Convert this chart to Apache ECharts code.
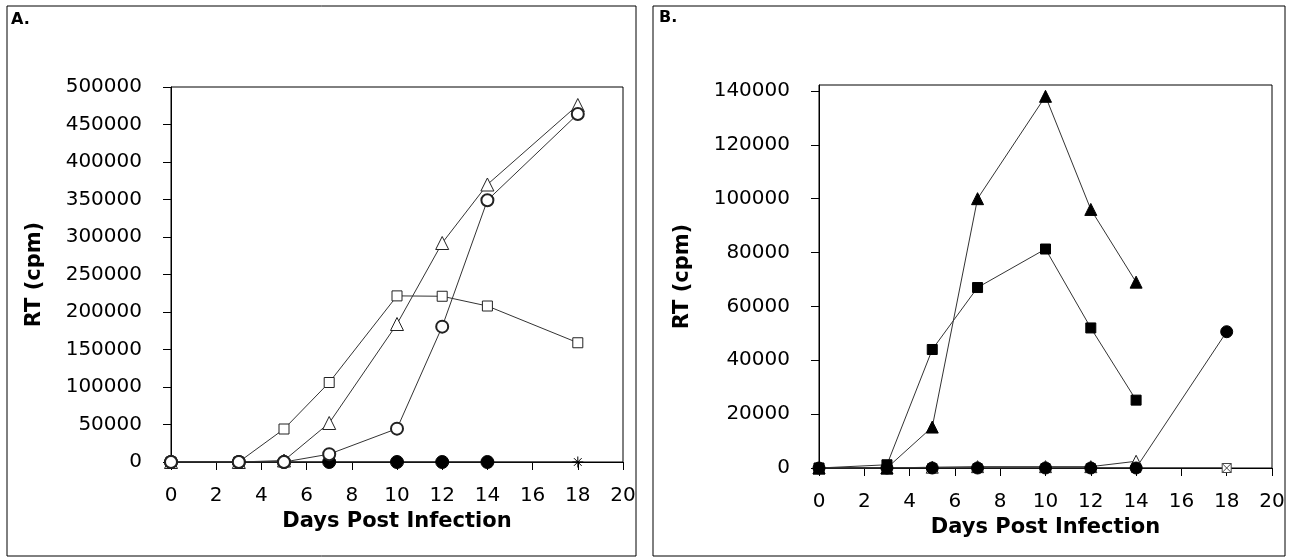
<!DOCTYPE html>
<html>
<head>
<meta charset="utf-8">
<script src="https://cdn.jsdelivr.net/npm/echarts@6/dist/echarts.min.js"></script>
<style>
  html, body { margin: 0; padding: 0; background: #fff; }
  #chart { width: 1291px; height: 559px; }
</style>
</head>
<body>
<div id="chart"></div>
<script>
// 数据
const days = [0, 3, 5, 7, 10, 12, 14, 18];
const daysTo14 = [0, 3, 5, 7, 10, 12, 14];
const xTicks = [0, 2, 4, 6, 8, 10, 12, 14, 16, 18, 20];

// Panel A
const aSquare = [0, 0, 44000, 106000, 221500, 221000, 208000, 159000];
const aTriangle = [0, 0, 2000, 52000, 184000, 292000, 370000, 476000];
const aCircle = [0, 0, 0, 10500, 44500, 180500, 349000, 464000];
const aDot = [0, 0, 0, 0, 0, 0, 0];
const aStar = [0, 0, 0, 0, 0, 0, 0, 0];
const aYTicks = [0, 50000, 100000, 150000, 200000, 250000, 300000, 350000, 400000, 450000, 500000];

// Panel B
const bTriangle = [0, 0, 15200, 100000, 138000, 96000, 69000];
const bSquare = [0, 1200, 44000, 67000, 81300, 52000, 25200];
const bDot = [0, 0, 0, 0, 0, 0, 0, 50600];
const bOpenTri = [0, 0, 300, 500, 500, 500, 2500];
const bCrossSq = [0, 0, 0, 0, 0, 0, 0, 0];
const bYTicks = [0, 20000, 40000, 60000, 80000, 100000, 120000, 140000];

const zip = (xs, ys) => ys.map((v, i) => [xs[i], v])

const font = 'DejaVu Sans, Verdana, sans-serif'
const lineStyle = { color: '#333', width: 1 }

const xAxis = (gridIndex) => ({
  type: 'value', gridIndex, min: 0, max: 20, interval: 2,
  name: 'Days Post Infection', nameLocation: 'middle', nameGap: gridIndex === 0 ? 47 : 41,
  nameTextStyle: { fontFamily: font, fontSize: 21, fontWeight: 'bold', color: '#000' },
  axisLine: { show: true, onZero: false, lineStyle: { color: '#000', width: 1 } },
  axisTick: { show: true, length: 8, lineStyle: { color: '#000' }, customValues: xTicks },
  axisLabel: { margin: 24, fontFamily: font, fontSize: 20, color: '#000', customValues: xTicks },
  splitLine: { show: false }
})

const yAxis = (gridIndex, max, ticks) => ({
  type: 'value', gridIndex, min: 0, max,
  name: 'RT (cpm)', nameLocation: 'middle', nameGap: 126, nameRotate: 90,
  nameTextStyle: { fontFamily: font, fontSize: 21, fontWeight: 'bold', color: '#000' },
  axisLine: { show: true, lineStyle: { color: '#000', width: 1 } },
  axisTick: { show: true, length: 8, lineStyle: { color: '#000' }, customValues: ticks },
  axisLabel: { margin: 29, fontFamily: font, fontSize: 20, color: '#000', customValues: ticks, formatter: v => String(v) },
  splitLine: { show: false }
})

const openStyle = (bw) => ({ color: '#fff', borderColor: '#222', borderWidth: bw })
const fillStyle = { color: '#000', borderColor: '#000', borderWidth: 1 }

const mk = (name, xi, data, symbol, size, itemStyle) => ({
  name, type: 'line', xAxisIndex: xi, yAxisIndex: xi, data,
  symbol, symbolSize: size, showAllSymbol: true,
  lineStyle, itemStyle, animation: false
})

const starPath = 'path://M5,0L5,10M0,5L10,5M1.5,1.5L8.5,8.5M1.5,8.5L8.5,1.5'
const crossSqPath = 'path://M0,0L10,0L10,10L0,10ZM0,0L10,10M10,0L0,10'

const chart = echarts.init(document.getElementById('chart'))
chart.setOption({
  backgroundColor: '#fff',
  graphic: [
    { type: 'rect', shape: { x: 7, y: 6, width: 629, height: 550 }, style: { fill: 'none', stroke: '#000', lineWidth: 1 } },
    { type: 'rect', shape: { x: 653, y: 6, width: 632, height: 550 }, style: { fill: 'none', stroke: '#000', lineWidth: 1 } },
    { type: 'text', left: 11, top: 12, style: { text: 'A.', font: 'bold 16px ' + font, fill: '#000' } },
    { type: 'text', left: 659, top: 10, style: { text: 'B.', font: 'bold 16px ' + font, fill: '#000' } }
  ],
  grid: [
    { left: 171, top: 87, width: 452, height: 375, show: true, borderColor: '#000', borderWidth: 1, backgroundColor: 'transparent' },
    { left: 819, top: 85, width: 453, height: 383, show: true, borderColor: '#000', borderWidth: 1, backgroundColor: 'transparent' }
  ],
  xAxis: [xAxis(0), xAxis(1)],
  yAxis: [yAxis(0, 500000, aYTicks), yAxis(1, 142200, bYTicks)],
  series: [
    mk('A star', 0, zip(days, aStar), starPath, 11, { color: 'transparent', borderColor: '#000', borderWidth: 1 }),
    mk('A square', 0, zip(days, aSquare), 'rect', 10, openStyle(1)),
    mk('A triangle', 0, zip(days, aTriangle), 'triangle', 13, openStyle(1)),
    mk('A dot', 0, zip(daysTo14, aDot), 'circle', 13, fillStyle),
    mk('A circle', 0, zip(days, aCircle), 'circle', 12, openStyle(2)),

    mk('B crossed square', 1, zip(days, bCrossSq), crossSqPath, 9, { color: '#fff', borderColor: '#444', borderWidth: 1 }),
    mk('B open triangle', 1, zip(daysTo14, bOpenTri), 'triangle', 12, openStyle(1)),
    mk('B dot', 1, zip(days, bDot), 'circle', 12, fillStyle),
    mk('B square', 1, zip(daysTo14, bSquare), 'rect', 10, fillStyle),
    mk('B triangle', 1, zip(daysTo14, bTriangle), 'triangle', 12, fillStyle)
  ]
})
</script>
</body>
</html>
